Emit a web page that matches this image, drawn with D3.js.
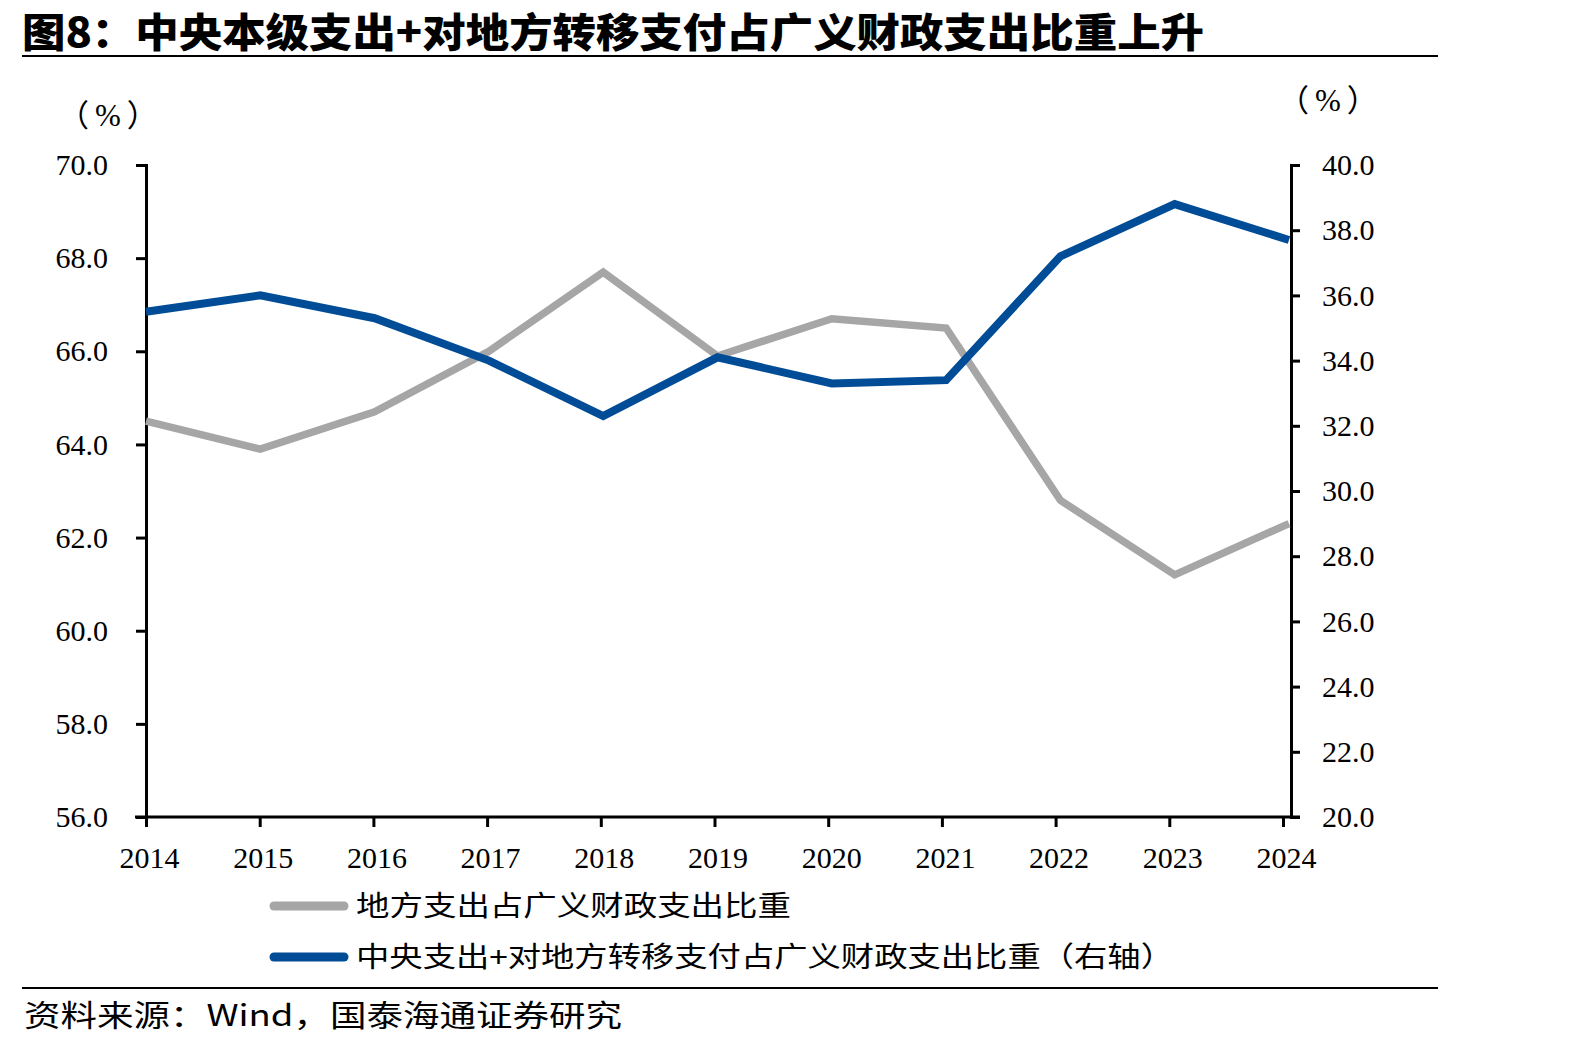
<!DOCTYPE html>
<html><head><meta charset="utf-8">
<script src="https://cdn.jsdelivr.net/npm/d3@7"></script>
<style>
html,body{margin:0;padding:0;background:#fff;}
svg{display:block;}
</style></head>
<body>
<svg id="chart" width="1594" height="1048"></svg>
<script>
const years = ["2014","2015","2016","2017","2018","2019","2020","2021","2022","2023","2024"];
const localShare = [64.5, 63.9, 64.7, 66.0, 67.7, 65.9, 66.7, 66.5, 62.8, 61.2, 62.3];
const centralShare = [35.5, 36.0, 35.3, 34.0, 32.3, 34.1, 33.3, 33.4, 37.2, 38.8, 37.7];
const leftTicks = [56, 58, 60, 62, 64, 66, 68, 70];
const rightTicks = [20, 22, 24, 26, 28, 30, 32, 34, 36, 38, 40];
const titleText = "图8：中央本级支出+对地方转移支付占广义财政支出比重上升";
const legendLabels = ["地方支出占广义财政支出比重", "中央支出+对地方转移支付占广义财政支出比重（右轴）"];
const sourceText = "资料来源：Wind，国泰海通证券研究";
const colors = ["#A6A6A6", "#004C97"];

const svg = d3.select("#chart");
const serif = "'Liberation Serif','Times New Roman',serif";
const cjk = "'Noto Sans CJK SC','Liberation Serif',serif";

const L = 146, R = 1291, T = 165, B = 817;

const xLine = d3.scalePoint().domain(years).range([L, R - 2]);
const xTick = d3.scalePoint().domain(years).range([L, 1283]);
const yL = d3.scaleLinear().domain([56, 70]).range([B, T]);
const yR = d3.scaleLinear().domain([20, 40]).range([B, T]);

// Title
svg.append("text").attr("x", 22).attr("y", 47)
  .attr("font-family", cjk).attr("font-weight", 900).attr("font-size", 40)
  .attr("textLength", 1182).attr("lengthAdjust", "spacingAndGlyphs")
  .attr("fill", "#000").text(titleText);
svg.append("line").attr("x1", 22).attr("x2", 1438).attr("y1", 56).attr("y2", 56)
  .attr("stroke", "#000").attr("stroke-width", 2);

// Unit labels
function unitLabel(x, y) {
  const t = svg.append("text").attr("x", x).attr("y", y).attr("font-size", 31).attr("fill", "#000");
  t.append("tspan").attr("font-family", cjk).text("（");
  t.append("tspan").attr("font-family", serif).attr("dx", 6).text("%");
  t.append("tspan").attr("font-family", cjk).attr("dx", 6).text("）");
}
unitLabel(58, 126);
unitLabel(1278, 111);

// Left axis
const gL = svg.append("g").attr("transform", `translate(${L},0)`)
  .call(d3.axisLeft(yL).tickValues(leftTicks).tickFormat(d3.format(".1f")).tickSize(10).tickSizeOuter(10).tickPadding(28));
// Right axis
const gR = svg.append("g").attr("transform", `translate(${R},0)`)
  .call(d3.axisRight(yR).tickValues(rightTicks).tickFormat(d3.format(".1f")).tickSize(9).tickSizeOuter(9).tickPadding(22));
// Bottom axis
const gB = svg.append("g").attr("transform", `translate(0,${B})`)
  .call(d3.axisBottom(xTick).tickSize(10).tickSizeOuter(0).tickPadding(20));
gB.select(".domain").remove();
gB.append("line").attr("x1", L - 11).attr("x2", R + 9).attr("y1", 0).attr("y2", 0)
  .attr("stroke", "#000").attr("stroke-width", 3);

[gL, gR, gB].forEach(g => {
  g.selectAll(".domain").attr("stroke", "#000").attr("stroke-width", 3);
  g.selectAll(".tick line").attr("stroke", "#000").attr("stroke-width", 3);
  g.selectAll(".tick text").attr("font-family", serif).attr("font-size", 30).attr("fill", "#000");
});
gB.selectAll(".tick text").attr("dx", 3);

// Lines
const lineLocal = d3.line().x((d, i) => xLine(years[i])).y(d => yL(d));
const lineCentral = d3.line().x((d, i) => xLine(years[i])).y(d => yR(d));
svg.append("path").datum(localShare).attr("d", lineLocal)
  .attr("fill", "none").attr("stroke", colors[0]).attr("stroke-width", 7.5).attr("stroke-linejoin", "miter");
svg.append("path").datum(centralShare).attr("d", lineCentral)
  .attr("fill", "none").attr("stroke", colors[1]).attr("stroke-width", 8).attr("stroke-linejoin", "miter");

// Legend
const legY = [906, 957];
const legW = [435, 818];
legendLabels.forEach((lab, i) => {
  svg.append("line").attr("x1", 274).attr("x2", 344).attr("y1", legY[i]).attr("y2", legY[i])
    .attr("stroke", colors[i]).attr("stroke-width", 9).attr("stroke-linecap", "round");
  svg.append("text").attr("x", 356).attr("y", legY[i] + 10)
    .attr("font-family", cjk).attr("font-size", 28)
    .attr("textLength", legW[i]).attr("lengthAdjust", "spacingAndGlyphs")
    .attr("fill", "#000").text(lab);
});

// Bottom rule and source
svg.append("line").attr("x1", 22).attr("x2", 1438).attr("y1", 988).attr("y2", 988)
  .attr("stroke", "#000").attr("stroke-width", 2);
svg.append("text").attr("x", 24).attr("y", 1026)
  .attr("font-family", cjk).attr("font-size", 30)
  .attr("textLength", 598).attr("lengthAdjust", "spacingAndGlyphs")
  .attr("fill", "#000").text(sourceText);
</script>
</body></html>
